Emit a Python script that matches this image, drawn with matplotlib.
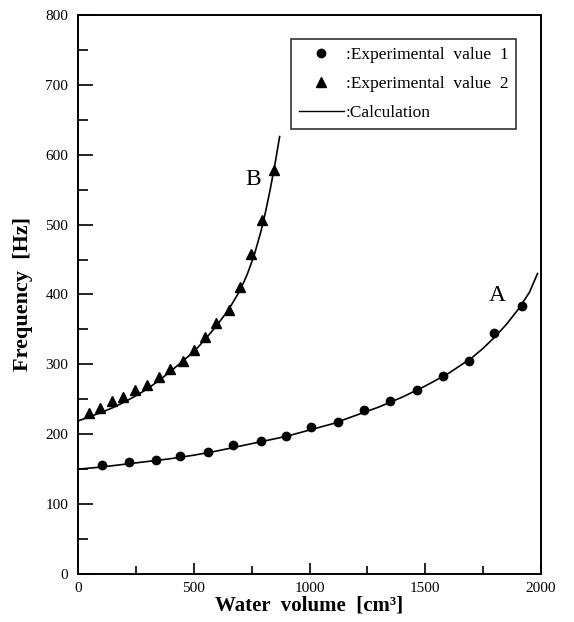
import numpy as np
import matplotlib
matplotlib.use("Agg")
from matplotlib import pyplot as plt
from matplotlib.lines import Line2D
from matplotlib.ticker import MultipleLocator

# Experimental value 1 (curve A)
vol_a = [105, 222, 336, 441, 563, 671, 789, 900, 1006, 1123, 1235, 1348,
         1463, 1578, 1688, 1798, 1919]
freq_a = [156, 160, 163, 169, 175, 185, 191, 198, 210, 218, 235, 247,
          263, 284, 305, 345, 384]

# Experimental value 2 (curve B)
vol_b = [49, 96, 147, 195, 247, 299, 350, 397, 452, 501, 549, 598, 652,
         700, 746, 794, 847]
freq_b = [231, 238, 248, 254, 263, 271, 282, 293, 305, 320, 339, 359, 378,
          411, 458, 507, 578]

# Calculation curves
calc_vol_a = [0, 100, 200, 300, 400, 500, 600, 700, 800, 900, 1000, 1100,
              1200, 1300, 1400, 1500, 1600, 1700, 1750, 1800, 1850, 1900,
              1950, 1985]
calc_freq_a = [150, 153, 157, 161, 165, 170, 176, 183, 190, 197, 206, 215,
               227, 239, 253, 269, 287, 309, 323, 339, 357, 378, 403, 430]
calc_vol_b = [0, 50, 100, 150, 200, 250, 300, 350, 400, 450, 500, 550, 600,
              650, 700, 730, 760, 790, 810, 830, 850, 871]
calc_freq_b = [219, 225, 231, 238, 246, 255, 265, 277, 290, 304, 318, 336,
               356, 378, 406, 428, 455, 490, 518, 550, 585, 626]

plt.rcParams['font.family'] = ['Liberation Serif', 'DejaVu Serif']

fig = plt.figure(figsize=(5.74, 6.22), dpi=100)
ax = fig.add_axes([0.1359, 0.0772, 0.8066, 0.8987])

ax.plot(calc_vol_a, calc_freq_a, color='black', lw=1.2)
ax.plot(calc_vol_b, calc_freq_b, color='black', lw=1.2)
ax.plot(vol_a, freq_a, 'o', color='black', ms=6)
ax.plot(vol_b, freq_b, '^', color='black', ms=6.5)

ax.text(755, 564, 'B', fontsize=17, ha='center', va='center')
ax.text(1813, 398, 'A', fontsize=17, ha='center', va='center')

ax.set_xlim(0, 2000)
ax.set_ylim(0, 800)
ax.xaxis.set_major_locator(MultipleLocator(500))
ax.xaxis.set_minor_locator(MultipleLocator(250))
ax.yaxis.set_major_locator(MultipleLocator(100))
ax.yaxis.set_minor_locator(MultipleLocator(50))
ax.tick_params(which='both', direction='in', top=False, right=False,
               width=1.2, labelsize=11)
ax.tick_params(axis='y', which='major', length=11, pad=7)
ax.tick_params(axis='y', which='minor', length=7)
ax.tick_params(axis='x', which='major', length=8, pad=6)
ax.tick_params(axis='x', which='minor', length=6)
for sp in ax.spines.values():
    sp.set_linewidth(1.4)

ax.set_xlabel('Water  volume  [cm³]', fontsize=15,
              fontweight='bold', labelpad=0)
ax.set_ylabel('Frequency  [Hz]', fontsize=16, fontweight='bold', labelpad=9)

handles = [
    Line2D([], [], marker='o', ls='none', color='black', ms=6),
    Line2D([], [], marker='^', ls='none', color='black', ms=6.5),
    Line2D([], [], color='black', lw=1.0),
]
labels = [':Experimental  value  1', ':Experimental  value  2', ':Calculation']
leg = ax.legend(handles, labels, loc='upper right',
                bbox_to_anchor=(0.946, 0.957), fontsize=12.5,
                frameon=True, fancybox=False, edgecolor='black',
                handlelength=2.6, handletextpad=0.1, labelspacing=0.75,
                borderpad=0.45, borderaxespad=0)
leg.get_frame().set_linewidth(1.2)

fig.savefig('out.png', dpi=100)
